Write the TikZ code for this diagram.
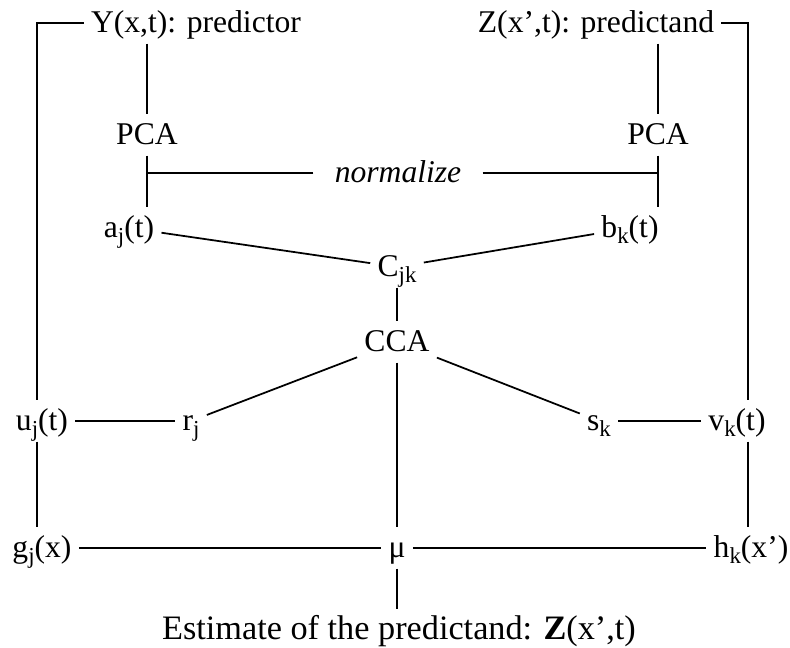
\documentclass[tikz,border=0pt]{standalone}
\usepackage{fontspec}
\setmainfont{Liberation Serif}
\usetikzlibrary{positioning}

\newcommand{\sbs}[1]{\raisebox{-3.5pt}{\fontsize{13}{13}\selectfont #1}}

\tikzset{
  lbl/.style={font=\fontsize{18}{20}\selectfont, text height=15pt, text depth=4pt, inner xsep=4pt, inner ysep=2pt},
  link/.style={line width=1pt}
}

\begin{document}
\begin{tikzpicture}[x=0.02cm,y=-0.02cm]
\useasboundingbox (0,0) rectangle (790,647);

% Fields on top
\node[lbl] (Y) at (196,23) {Y(x,t): predictor};
\node[lbl] (Z) at (596,23) {Z(x',t): predictand};
\coordinate (cornerL) at (37,23);
\coordinate (cornerR) at (748,23);

% PCA of both fields
\node[lbl] (pcaL) at (147,135) {PCA};
\node[lbl] (pcaR) at (658,135) {PCA};
\node[lbl, inner xsep=12pt] (norm) at (398,173) {\itshape normalize};
\node[lbl] (aj) at (129,228) {a\sbs{j}(t)};
\node[lbl] (bk) at (630,228) {b\sbs{k}(t)};

% Cross covariance and CCA
\node[lbl] (cjk) at (397,267) {C\sbs{jk}};
\node[lbl] (cca) at (397,342) {CCA};
\node[lbl] (uj) at (42,421) {u\sbs{j}(t)};
\node[lbl] (rj) at (191,421) {r\sbs{j}};
\node[lbl] (sk) at (599,421) {s\sbs{k}};
\node[lbl] (vk) at (737,421) {v\sbs{k}(t)};

% Patterns and estimate
\node[lbl] (gj) at (42,548) {g\sbs{j}(x)};
\node[lbl] (mu) at (397,548) {μ};
\node[lbl] (hk) at (751,548) {h\sbs{k}(x')};
\node[lbl, font=\fontsize{19.5}{21}\selectfont] (est) at (399,630) {Estimate of the predictand: \textbf{Z}(x',t)};

% Outer branches
\draw[link] (Y.west) -- (cornerL) -- (cornerL |- uj.north);
\draw[link] (cornerL |- uj.south) -- (cornerL |- gj.north);
\draw[link] (Z.east) -- (cornerR) -- (cornerR |- vk.north);
\draw[link] (cornerR |- vk.south) -- (cornerR |- hk.north);

% PCA branches
\draw[link] (pcaL |- Y.south) -- (pcaL.north);
\draw[link] (pcaL.south) -- (pcaL |- aj.north);
\draw[link] (pcaR |- Z.south) -- (pcaR.north);
\draw[link] (pcaR.south) -- (pcaR |- bk.north);
\draw[link] (norm.west) -- (norm.west -| pcaL);
\draw[link] (norm.east) -- (norm.east -| pcaR);

% Middle
\draw[link] (aj) -- (cjk);
\draw[link] (bk) -- (cjk);
\draw[link] (cjk) -- (cca);
\draw[link] (cca) -- (rj);
\draw[link] (cca) -- (sk);
\draw[link] (uj) -- (rj);
\draw[link] (sk) -- (vk);

% Bottom
\draw[link] (cca) -- (mu);
\draw[link] (gj) -- (mu);
\draw[link] (mu) -- (hk);
\draw[link] (mu.south) -- (mu.south |- est.north);
\end{tikzpicture}
\end{document}
